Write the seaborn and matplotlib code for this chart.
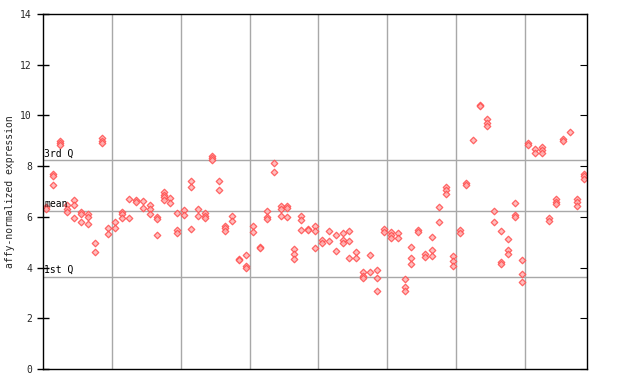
import numpy as np
import pandas as pd
import seaborn as sns
import matplotlib.pyplot as plt

# replicate values per sample
valores = [
    [6.4, 6.3], [7.7, 7.6, 7.25], [9.0, 8.9, 8.85], [6.45, 6.3, 6.2],
    [6.65, 6.45, 5.97], [6.18, 6.1, 5.78], [6.1, 6.0, 5.7], [4.95, 4.63],
    [9.1, 9.0, 8.93], [5.58, 5.34], [5.8, 5.56], [6.2, 6.1, 5.97],
    [6.72, 5.97], [6.65, 6.6], [6.62, 6.33], [6.47, 6.3, 6.1],
    [6.0, 5.9, 5.27], [7.0, 6.88, 6.78, 6.65], [6.76, 6.53], [6.14, 5.48, 5.35],
    [6.27, 6.07], [7.41, 7.16, 5.52], [6.3, 6.03], [6.16, 6.03, 5.97],
    [8.41, 8.33, 8.23], [7.41, 7.06], [5.65, 5.55, 5.45], [6.05, 5.82],
    [4.35, 4.28], [4.48, 4.07, 3.98], [5.64, 5.42], [4.82, 4.78],
    [6.24, 6.01, 5.93], [8.11, 7.78], [6.44, 6.32, 6.02], [6.43, 6.35, 5.98],
    [4.75, 4.53, 4.34], [6.05, 5.86, 5.5], [5.53, 5.49], [5.64, 5.43, 4.76],
    [5.09, 4.98], [5.43, 5.05], [5.27, 4.64], [5.35, 5.09, 4.98],
    [5.45, 5.05, 4.39], [4.63, 4.38], [3.84, 3.67, 3.58], [4.5, 3.81],
    [3.9, 3.58, 3.06], [5.53, 5.42], [5.4, 5.28, 5.15], [5.38, 5.15],
    [3.55, 3.22, 3.08], [4.8, 4.36, 4.13], [5.48, 5.4], [4.55, 4.42],
    [5.19, 4.68, 4.44], [6.38, 5.81], [7.16, 7.06, 6.9], [4.46, 4.26, 4.06],
    [5.48, 5.38], [7.35, 7.25], [9.03], [10.42, 10.38],
    [9.85, 9.7, 9.58], [6.24, 5.81], [5.44, 4.22, 4.15], [5.12, 4.69, 4.53],
    [6.53, 6.08, 5.98], [4.29, 3.73, 3.42], [8.92, 8.83], [8.66, 8.52],
    [8.77, 8.62, 8.53], [5.96, 5.85], [6.7, 6.6, 6.5], [9.06, 8.98],
    [9.36], [6.69, 6.58, 6.43], [7.69, 7.6, 7.48],
]
q1, media, q3 = 3.62, 6.23, 8.23
rotulos_linhas = ["1st Q", "mean", "3rd Q"]

n = len(valores)
dados = pd.DataFrame(
    [(i + 0.5, v) for i, vs in enumerate(valores) for v in vs],
    columns=["amostra", "expressao"],
)

sns.set_style("white")
plt.rcParams["font.family"] = ["DejaVu Sans Mono"]

fig = plt.figure(figsize=(6.4, 3.84), dpi=100)
ax = fig.add_axes([43 / 640, 15 / 384, 544 / 640, 355 / 384])

# grade
for xg in range(10, n, 10):
    ax.axvline(xg, color="#a8a8a8", lw=1, zorder=1)
for yv, rot in zip([q1, media, q3], rotulos_linhas):
    ax.axhline(yv, color="#a8a8a8", lw=1, zorder=1)
    ax.text(0.2, yv + 0.08, rot, fontsize=7, color="black", va="bottom", ha="left", zorder=3)

sns.scatterplot(data=dados, x="amostra", y="expressao", ax=ax, marker="D", s=11,
                color="#ffb4b4", edgecolor="#ff4d4d", linewidth=0.9, alpha=0.85,
                legend=False, zorder=2)

ax.set_xlim(0, n)
ax.set_ylim(0, 14)
ax.set_yticks(range(0, 15, 2))
ax.set_xticks([])
ax.set_xlabel("")
ax.set_ylabel("affy-normalized expression", fontsize=7)
ax.tick_params(axis="y", direction="inout", length=9, width=1, labelsize=7, color="black")
for s in ax.spines.values():
    s.set_color("black")
    s.set_linewidth(1)

ax2 = ax.twinx()
ax2.set_ylim(0, 14)
ax2.set_yticks(range(0, 15, 2))
ax2.tick_params(axis="y", direction="in", length=5, labelright=False, color="black")
for s in ax2.spines.values():
    s.set_visible(False)

fig.savefig("out.png", dpi=100)
